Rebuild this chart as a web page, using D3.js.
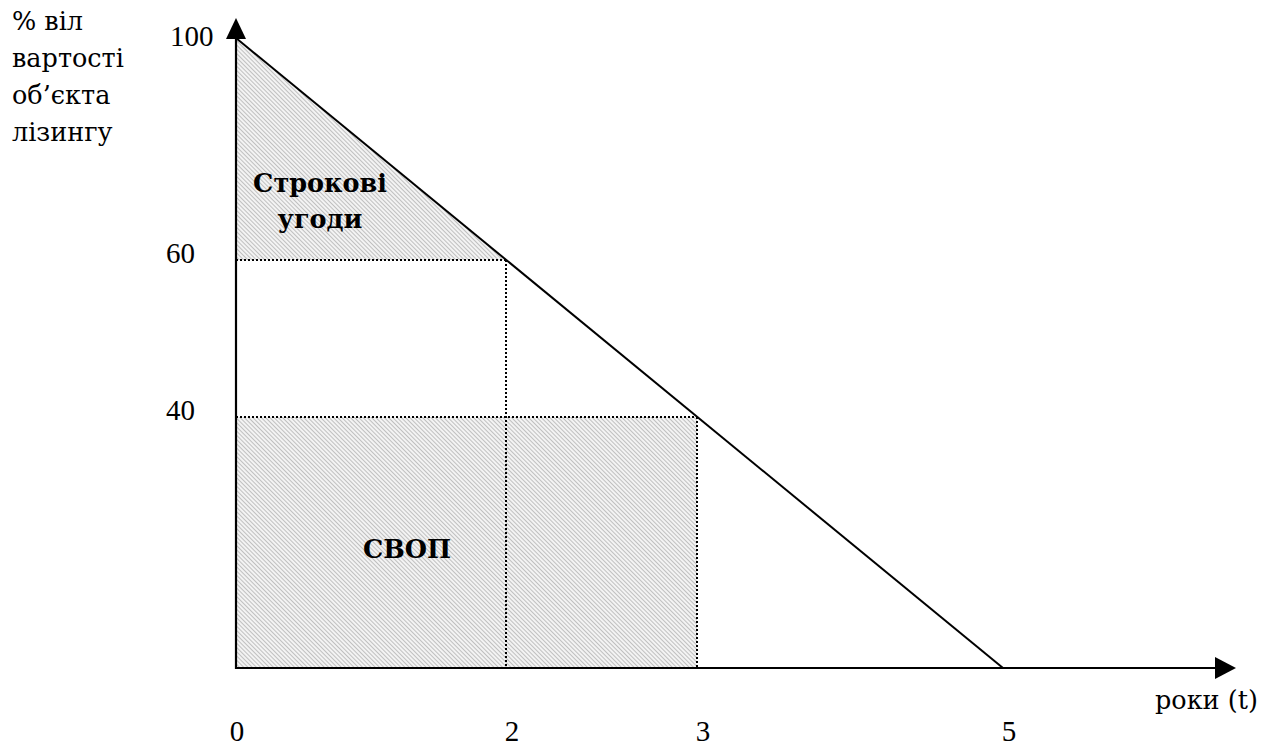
<!DOCTYPE html>
<html>
<head>
<meta charset="utf-8">
<script src="https://cdn.jsdelivr.net/npm/d3@7"></script>
<style>
  html, body { margin: 0; padding: 0; background: #fff; }
  svg { display: block; }
  text { font-family: "Liberation Serif", "DejaVu Serif", serif; fill: #000; }
  text.cyr { font-family: "DejaVu Serif", "Liberation Serif", serif; }
</style>
</head>
<body>
<svg id="chart" width="1276" height="746"></svg>
<script>
// ---- data ----
const xTicks = [0, 2, 3, 5];
const yTicks = [100, 60, 40];
const yTitleLines = ["% віл", "вартості", "об’єкта", "лізингу"];
const xTitle = "роки (t)";
const declineLine = [[0, 100], [5, 0]];
const termArea = [[0, 100], [2, 60], [0, 60]];
const swapArea = [[0, 0], [3, 40]];
const termLabel = ["Строкові", "угоди"];
const swapLabel = "СВОП";
const guidePoints = [[2, 60], [3, 40]];

// ---- scales (schematic, piecewise) ----
const x = d3.scaleLinear().domain([0, 2, 3, 5]).range([236, 506, 697, 1003]);
const y = d3.scaleLinear().domain([0, 40, 60, 100]).range([668, 417, 260, 38]);

const svg = d3.select("#chart");
const defs = svg.append("defs");
const pat = defs.append("pattern")
  .attr("id", "hatch").attr("patternUnits", "userSpaceOnUse")
  .attr("width", 3).attr("height", 3)
  .attr("patternTransform", "rotate(-45)");
pat.append("rect").attr("width", 3).attr("height", 3).attr("fill", "#f3f3f3");
pat.append("line").attr("x1", 0.5).attr("y1", 0).attr("x2", 0.5).attr("y2", 3)
  .attr("stroke", "#c0c0c0").attr("stroke-width", 1);

// shaded areas
svg.append("path")
  .attr("d", d3.line().x(d => x(d[0])).y(d => y(d[1]))(termArea) + "Z")
  .attr("fill", "url(#hatch)");
svg.append("rect")
  .attr("x", x(swapArea[0][0])).attr("y", y(swapArea[1][1]))
  .attr("width", x(swapArea[1][0]) - x(swapArea[0][0]))
  .attr("height", y(swapArea[0][1]) - y(swapArea[1][1]))
  .attr("fill", "url(#hatch)");

// dotted guides
guidePoints.forEach(p => {
  svg.append("line")
    .attr("x1", x(0)).attr("x2", x(p[0])).attr("y1", y(p[1])).attr("y2", y(p[1]))
    .attr("stroke", "#000").attr("stroke-width", 2).attr("stroke-dasharray", "2,2");
  svg.append("line")
    .attr("x1", x(p[0])).attr("x2", x(p[0])).attr("y1", y(p[1])).attr("y2", y(0))
    .attr("stroke", "#000").attr("stroke-width", 2).attr("stroke-dasharray", "2,2");
});

// decline line
svg.append("path")
  .attr("d", d3.line().x(d => x(d[0])).y(d => y(d[1]))(declineLine))
  .attr("fill", "none").attr("stroke", "#000").attr("stroke-width", 2);

// axes
const yTop = 18, xEnd = 1236;
svg.append("line").attr("x1", x(0)).attr("x2", x(0)).attr("y1", y(0) + 1).attr("y2", yTop + 15)
  .attr("stroke", "#000").attr("stroke-width", 2.2);
svg.append("path")
  .attr("d", `M${x(0)},${yTop} L${x(0) - 10},${yTop + 21} L${x(0) + 10},${yTop + 21} Z`)
  .attr("fill", "#000");
svg.append("line").attr("x1", x(0) - 1).attr("x2", xEnd - 15).attr("y1", y(0)).attr("y2", y(0))
  .attr("stroke", "#000").attr("stroke-width", 2.2);
svg.append("path")
  .attr("d", `M${xEnd},${y(0)} L${xEnd - 21},${y(0) - 11} L${xEnd - 21},${y(0) + 11} Z`)
  .attr("fill", "#000");

// y tick labels
svg.selectAll("text.ytick").data(yTicks).enter().append("text")
  .attr("class", "ytick")
  .attr("x", d => d === 100 ? 170 : 166)
  .attr("y", d => y(d) + (d === 100 ? 8 : 3))
  .attr("font-size", 29)
  .text(d => d);

// x tick labels
svg.selectAll("text.xtick").data(xTicks).enter().append("text")
  .attr("class", "xtick")
  .attr("x", d => x(d) + (d === 0 ? 1 : 6))
  .attr("y", 741)
  .attr("text-anchor", "middle")
  .attr("font-size", 29)
  .text(d => d);

// y title
svg.selectAll("text.ytitle").data(yTitleLines).enter().append("text")
  .attr("class", "ytitle cyr")
  .attr("x", 12)
  .attr("y", (d, i) => 30 + i * 37)
  .attr("font-size", 25.5)
  .text(d => d);

// x title
svg.append("text").attr("class", "cyr").attr("x", 1155).attr("y", 709).attr("font-size", 25.5).text(xTitle);

// region labels
svg.selectAll("text.term").data(termLabel).enter().append("text")
  .attr("class", "term cyr")
  .attr("x", 320).attr("y", (d, i) => 192 + i * 36)
  .attr("text-anchor", "middle").attr("font-size", 25.5).attr("font-weight", "bold")
  .text(d => d);
svg.append("text").attr("class", "cyr").attr("x", 407).attr("y", 558)
  .attr("text-anchor", "middle").attr("font-size", 25.5).attr("font-weight", "bold")
  .text(swapLabel);
</script>
</body>
</html>
